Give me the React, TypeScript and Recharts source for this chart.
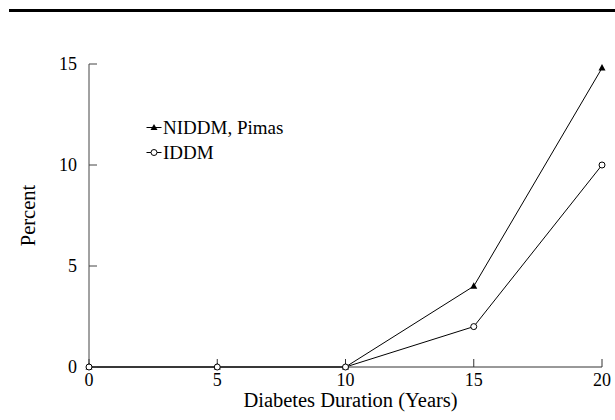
import { LineChart, Line, XAxis, YAxis, Legend } from "recharts";

// percent of patients, by years since diagnosis
const durationYears = [0, 5, 10, 15, 20];
const niddmPimas = [0, 0, 0, 4, 14.8];
const iddm = [0, 0, 0, 2, 10];
const xTicks = [0, 5, 10, 15, 20];
const yTicks = [0, 5, 10, 15];
const legendOrder = ["niddm", "iddm"];

const data = durationYears.map((year, i) => ({
  year,
  niddm: niddmPimas[i],
  iddm: iddm[i],
}));

const FONT = "Liberation Serif, serif";

const Triangle = (p: any) => {
  const { cx, cy } = p;
  if (cx == null || cy == null) return null;
  return (
    <path
      key={`tri-${p.index}`}
      d={`M${cx},${cy - 4} L${cx + 3.5},${cy + 2.5} L${cx - 3.5},${cy + 2.5} Z`}
      fill="#000"
    />
  );
};

const Ring = (p: any) => {
  const { cx, cy } = p;
  if (cx == null || cy == null) return null;
  return <circle key={`ring-${p.index}`} cx={cx} cy={cy} r={3} fill="#fff" stroke="#000" strokeWidth={1} />;
};

// legend drawn as svg so its text uses the same serif as the axes
const LegendBox = (props: any) => {
  const items = [...(props.payload || [])].sort(
    (a: any, b: any) => legendOrder.indexOf(a.dataKey) - legendOrder.indexOf(b.dataKey)
  );
  return (
    <svg width={160} height={items.length * 25} style={{ display: "block" }}>
      {items.map((it: any, i: number) => {
        const y = 12.5 + i * 25;
        return (
          <g key={it.dataKey}>
            <line x1={0.5} y1={y} x2={15.5} y2={y} stroke="#000" strokeWidth={1} />
            {it.dataKey === "niddm" ? (
              <path d={`M8,${y - 3.5} L11.5,${y + 2.5} L4.5,${y + 2.5} Z`} fill="#000" />
            ) : (
              <circle cx={8} cy={y} r={3} fill="#fff" stroke="#000" />
            )}
            <text x={17} y={y + 6} fontFamily={FONT} fontSize={19} fill="#000">
              {it.value}
            </text>
          </g>
        );
      })}
    </svg>
  );
};

export default function App() {
  return (
    <div style={{ position: "absolute", left: 0, top: 0, width: 615, height: 420, background: "#fff", fontFamily: FONT }}>
      <div style={{ position: "absolute", left: 9, top: 9, width: 606, height: 3, background: "#000" }} />
      <LineChart width={615} height={420} data={data} margin={{ top: 64, right: 13, left: 0, bottom: 0 }}>
        <XAxis
          dataKey="year"
          type="number"
          domain={[0, 20]}
          ticks={xTicks}
          height={53}
          tickSize={-8}
          tickMargin={14}
          axisLine={{ stroke: "#333" }}
          tickLine={{ stroke: "#333" }}
          tick={{ fill: "#000", fontSize: 18, fontFamily: FONT }}
          label={(lp: any) => {
            const vb = lp.viewBox;
            return (
              <text
                x={vb.x + vb.width / 2 + 5}
                y={vb.y + 40}
                textAnchor="middle"
                fontFamily={FONT}
                fontSize={20.5}
                fill="#000"
              >
                Diabetes Duration (Years)
              </text>
            );
          }}
        />
        <YAxis
          type="number"
          domain={[0, 15]}
          ticks={yTicks}
          width={89}
          tickSize={-8}
          tickMargin={20}
          axisLine={{ stroke: "#444" }}
          tickLine={{ stroke: "#444" }}
          tick={{ fill: "#000", fontSize: 18, fontFamily: FONT }}
          label={(lp: any) => {
            const vb = lp.viewBox;
            const cx = 35;
            const cy = vb.y + vb.height / 2;
            return (
              <text
                x={cx}
                y={cy}
                transform={`rotate(-90 ${cx} ${cy})`}
                textAnchor="middle"
                fontFamily={FONT}
                fontSize={20.5}
                fill="#000"
              >
                Percent
              </text>
            );
          }}
        />
        <Legend
          layout="vertical"
          verticalAlign="middle"
          align="center"
          wrapperStyle={{ left: 146, top: 115, width: "auto" }}
          content={LegendBox}
        />
        <Line
          dataKey="niddm"
          name="NIDDM, Pimas"
          type="linear"
          stroke="#000"
          strokeWidth={1}
          dot={Triangle}
          activeDot={false}
          isAnimationActive={false}
        />
        <Line
          dataKey="iddm"
          name="IDDM"
          type="linear"
          stroke="#000"
          strokeWidth={1}
          dot={Ring}
          activeDot={false}
          isAnimationActive={false}
        />
      </LineChart>
    </div>
  );
}
